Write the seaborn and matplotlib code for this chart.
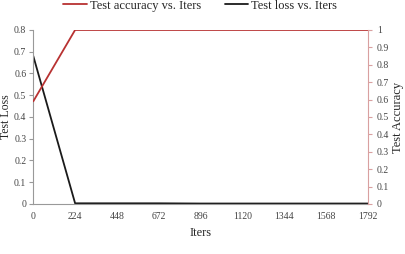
import matplotlib
matplotlib.use("Agg")
import matplotlib.pyplot as plt
import seaborn as sns
import pandas as pd

iters = [0, 224, 448, 672, 896, 1120, 1344, 1568, 1792]
test_accuracy = [0.59, 1.0, 1.0, 1.0, 1.0, 1.0, 1.0, 1.0, 1.0]
test_loss = [0.68, 0.003, 0.003, 0.003, 0.002, 0.002, 0.002, 0.002, 0.002]
loss_ticks = [0, 0.1, 0.2, 0.3, 0.4, 0.5, 0.6, 0.7, 0.8]
acc_ticks = [0, 0.1, 0.2, 0.3, 0.4, 0.5, 0.6, 0.7, 0.8, 0.9, 1]

sns.set_style("white")
plt.rcParams['font.family'] = ['Liberation Serif', 'DejaVu Serif']
plt.rcParams['font.size'] = 7

df = pd.DataFrame({"Iters": iters, "acc": test_accuracy, "loss": test_loss})

fig = plt.figure(figsize=(4.06, 2.54), dpi=100)
ax = fig.add_axes([0.082, 0.197, 0.824, 0.685])
ax2 = ax.twinx()

red = "#b83232"
sns.lineplot(data=df, x="Iters", y="acc", ax=ax2, color=red, lw=1.3,
             label="Test accuracy vs. Iters", legend=False)
sns.lineplot(data=df, x="Iters", y="loss", ax=ax, color="#1a1a1a", lw=1.3,
             label="Test loss vs. Iters", legend=False)

ax.set_xlim(0, 1792)
ax.set_ylim(0, 0.8)
ax2.set_ylim(0, 1)
ax.set_xticks(iters)
ax.set_xticklabels([str(v) for v in iters])
ax.set_yticks(loss_ticks)
ax.set_yticklabels([f"{v:g}" for v in loss_ticks])
ax2.set_yticks(acc_ticks)
ax2.set_yticklabels([f"{v:g}" for v in acc_ticks])

ax.set_xlabel("Iters", fontsize=9, labelpad=4)
ax.set_ylabel("Test Loss", fontsize=8.5)
ax.yaxis.set_label_coords(-0.064, 0.5)
ax2.set_ylabel("Test Accuracy", fontsize=9, labelpad=2)

for a in (ax, ax2):
    a.spines['top'].set_visible(False)
for s in ('left', 'bottom', 'right'):
    ax.spines[s].set_color('#999999')
    ax2.spines[s].set_color('#999999')
ax2.spines['right'].set_color('#d9a0a0')
ax2.spines['left'].set_visible(False)
ax2.spines['bottom'].set_visible(False)
ax.spines['right'].set_visible(False)

ax.tick_params(axis='y', left=True, length=3, color='#999999', width=0.8, labelsize=7, colors='#444444', pad=2)
ax.tick_params(axis='x', bottom=False, length=0, labelsize=7, pad=6, colors='#444444')
ax2.tick_params(axis='y', right=True, length=3, color='#d9a0a0', width=0.8, labelsize=7, labelcolor='#444444')

h1, l1 = ax2.get_legend_handles_labels()
h2, l2 = ax.get_legend_handles_labels()
fig.legend(h1 + h2, l1 + l2, loc='upper center', bbox_to_anchor=(0.493, 1.045),
           ncol=2, frameon=False, fontsize=9, handlelength=1.9, columnspacing=1.9,
           handletextpad=0.2)

fig.savefig("out.png", dpi=100)
